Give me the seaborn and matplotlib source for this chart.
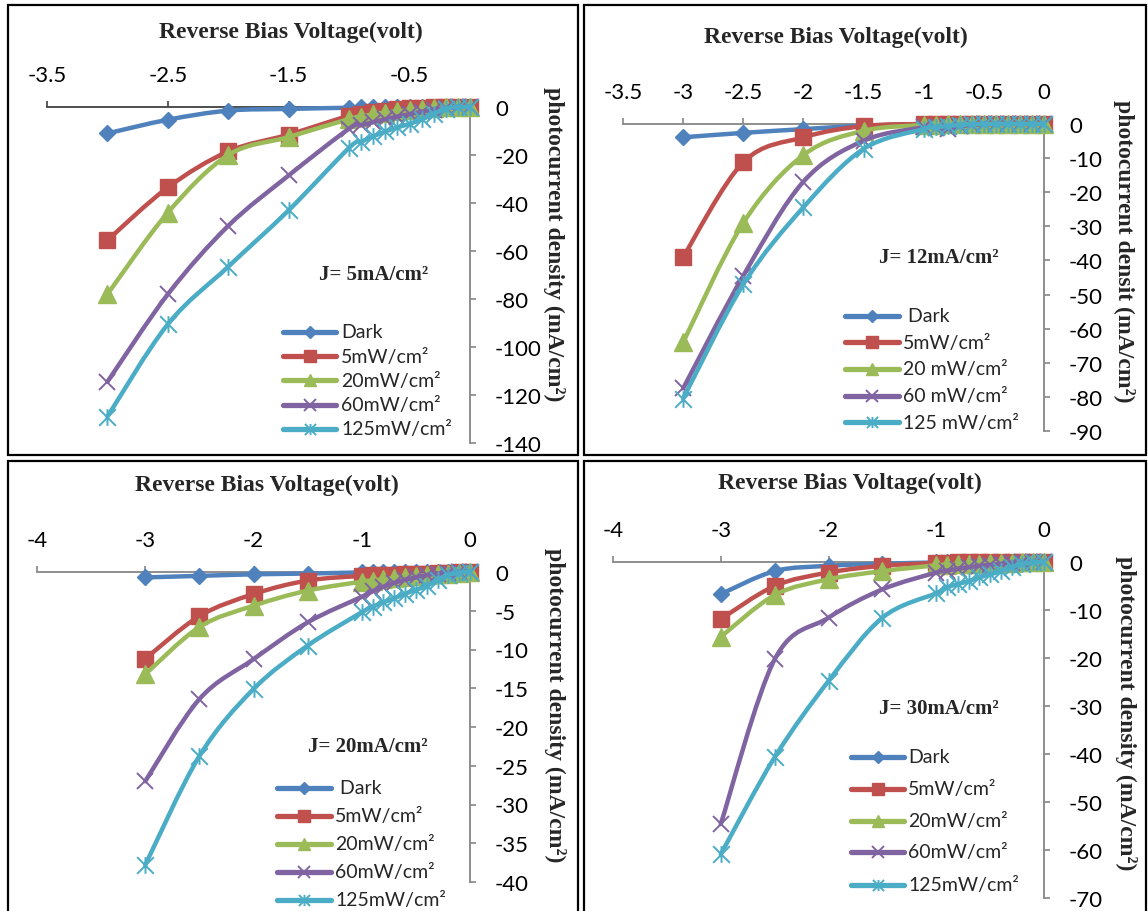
import numpy as np
import matplotlib
matplotlib.use("Agg")
import matplotlib.pyplot as plt
import seaborn as sns
from matplotlib.path import Path
from matplotlib.patches import PathPatch, Rectangle
from matplotlib.lines import Line2D
from matplotlib.ticker import FixedLocator, FuncFormatter

# ---------------- data ----------------
volts = [-3.0, -2.5, -2.0, -1.5, -1.0, -0.9, -0.8, -0.7, -0.6, -0.5, -0.4, -0.3, -0.2, -0.1, 0.0]

series_names = ["Dark", "5mW/cm²", "20mW/cm²", "60mW/cm²", "125mW/cm²"]

# J = 5 mA/cm2
j5_dark = [-11.0, -5.3, -1.5, -0.8, -0.3, -0.2, -0.1, 0, 0, 0, 0, 0, 0, 0, 0]
j5_5mw = [-55.5, -33.5, -18.5, -11.5, -3.6, -2.8, -2.1, -1.5, -1.0, -0.6, -0.4, -0.2, -0.1, 0, 0]
j5_20mw = [-78.0, -44.0, -20.0, -12.5, -5.0, -4.0, -3.0, -2.3, -1.8, -1.3, -0.9, -0.5, -0.2, 0, 0]
j5_60mw = [-114.5, -78.0, -49.5, -28.5, -9.0, -7.6, -6.3, -5.1, -4.0, -3.0, -2.0, -1.2, -0.5, -0.1, 0]
j5_125mw = [-129.0, -90.5, -66.5, -43.0, -17.0, -14.5, -12.2, -10.2, -8.5, -7.0, -5.2, -2.8, -0.7, 0, 0]

# J = 12 mA/cm2
j12_dark = [-3.9, -2.6, -1.5, -0.5, 0, 0, 0, 0, 0, 0, 0, 0, 0, 0, 0]
j12_5mw = [-39.0, -11.2, -3.9, -0.6, 0, 0, 0, 0, 0, 0, 0, 0, 0, 0, 0]
j12_20mw = [-64.0, -29.0, -9.1, -2.0, -0.3, -0.2, -0.1, 0, 0, 0, 0, 0, 0, 0, 0]
j12_60mw = [-77.5, -44.5, -16.9, -4.9, -1.0, -1.2, -1.5, -0.7, -0.3, -0.1, 0, 0, 0, 0, 0]
j12_125mw = [-80.5, -47.0, -24.4, -7.3, -1.5, -1.0, -0.6, -0.3, -0.1, 0, 0, 0, 0, 0, 0]

# J = 20 mA/cm2
j20_dark = [-0.7, -0.5, -0.3, -0.2, -0.05, 0, 0, 0, 0, 0, 0, 0, 0, 0, 0]
j20_5mw = [-11.2, -5.7, -2.85, -1.1, -0.5, -0.45, -0.4, -0.35, -0.3, -0.25, -0.2, -0.15, -0.1, -0.05, 0]
j20_20mw = [-13.2, -7.1, -4.35, -2.4, -1.25, -1.1, -0.95, -0.8, -0.65, -0.5, -0.4, -0.3, -0.2, -0.1, 0]
j20_60mw = [-27.0, -16.4, -11.25, -6.5, -3.2, -2.5, -1.9, -1.4, -1.0, -0.7, -0.4, -0.2, -0.1, 0, 0]
j20_125mw = [-37.8, -23.75, -15.1, -9.5, -5.2, -4.5, -3.9, -3.4, -2.8, -2.3, -1.8, -1.0, -0.4, -0.1, 0]

# J = 30 mA/cm2
j30_dark = [-6.7, -1.9, -0.8, -0.35, -0.1, 0, 0, 0, 0, 0, 0, 0, 0, 0, 0]
j30_5mw = [-11.9, -5.0, -2.2, -0.8, -0.2, -0.15, -0.1, -0.1, -0.05, 0, 0, 0, 0, 0, 0]
j30_20mw = [-15.6, -6.9, -3.6, -1.9, -0.7, -0.6, -0.5, -0.4, -0.35, -0.3, -0.2, -0.15, -0.1, 0, 0]
j30_60mw = [-54.6, -20.3, -11.6, -5.7, -2.2, -1.8, -1.4, -1.1, -0.8, -0.6, -0.4, -0.2, -0.1, 0, 0]
j30_125mw = [-60.9, -40.7, -24.8, -11.6, -6.5, -5.3, -4.6, -4.0, -3.2, -2.6, -1.9, -1.1, -0.4, -0.1, 0]

legend_a = ["Dark", "5mW/cm²", "20mW/cm²", "60mW/cm²", "125mW/cm²"]
legend_b = [" Dark", "5mW/cm²", "20 mW/cm²", "60 mW/cm²", "125 mW/cm²"]
legend_c = [" Dark", "5mW/cm²", "20mW/cm²", "60mW/cm²", "125mW/cm²"]

x_title = "Reverse Bias Voltage(volt)"
y_title = "photocurrent density (mA/cm²)"
y_title_b = "photocurrent densit (mA/cm²)"

# ---------------- style ----------------
sns.set_theme(style="white")
plt.rcParams["font.family"] = ["Lato", "DejaVu Sans"]
plt.rcParams["axes.unicode_minus"] = False

W, H = 1148, 912
fig = plt.figure(figsize=(W / 100, H / 100), dpi=100)
fig.patch.set_facecolor("white")


def fx(x):
    return x / W


def fy(y):
    return 1 - y / H


colors = ["#4F81BD", "#C0504D", "#9BBB59", "#8064A2", "#4BACC6"]
star = Path([(0, -0.5), (0, 0.5), (-0.5, -0.5), (0.5, 0.5), (-0.5, 0.5), (0.5, -0.5)],
            [Path.MOVETO, Path.LINETO, Path.MOVETO, Path.LINETO, Path.MOVETO, Path.LINETO])
markers = ["D", "s", "^", "x", star]
msizes = [8.5, 12, 13, 11, 12]
mews = [1, 1, 1, 1.4, 1.4]
leg_msizes = [6, 8.5, 9, 8, 8]

serif = "Liberation Serif"


def smooth_path(x, y):
    pts = np.column_stack([x, y]).astype(float)
    n = len(pts)
    verts = [pts[0]]
    codes = [Path.MOVETO]
    for i in range(n - 1):
        p0 = pts[i - 1] if i > 0 else pts[i]
        p1 = pts[i]
        p2 = pts[i + 1]
        p3 = pts[i + 2] if i + 2 < n else pts[i + 1]
        c1 = p1 + (p2 - p0) / 6.0
        c2 = p2 - (p3 - p1) / 6.0
        verts += [c1, c2, p2]
        codes += [Path.CURVE4] * 3
    return Path(verts, codes)


panels = [
    dict(ax=(47, 470, 108, 444), xlim=(-3.5, 0), ylim=(-140, 0),
         xt=[-3.5, -2.5, -1.5, -0.5], yt=list(range(0, -141, -20)),
         title=(291, 32), ylab=(554, 244, y_title), J=(374, 275, "J= 5mA/cm²"),
         rows=[333, 357, 381, 406, 430], legx=(283, 336, 341), labels=legend_a,
         border=(8, 6, 578, 456), spine="#404040",
         data=[j5_dark, j5_5mw, j5_20mw, j5_60mw, j5_125mw]),
    dict(ax=(623, 1044, 125, 432), xlim=(-3.5, 0), ylim=(-90, 0),
         xt=[-3.5, -3, -2.5, -2, -1.5, -1, -0.5, 0], yt=list(range(0, -91, -10)),
         title=(836, 37), ylab=(1124, 251, y_title_b), J=(939, 258, "J= 12mA/cm²"),
         rows=[317, 343, 370, 397, 423], legx=(845, 899, 903), labels=legend_b,
         border=(584, 6, 1146, 456), spine="#868686",
         data=[j12_dark, j12_5mw, j12_20mw, j12_60mw, j12_125mw]),
    dict(ax=(37, 470, 573, 883), xlim=(-4, 0), ylim=(-40, 0),
         xt=[-4, -3, -2, -1, 0], yt=list(range(0, -41, -5)),
         title=(267, 485), ylab=(555, 705, y_title), J=(368, 747, "J= 20mA/cm²"),
         rows=[789, 817, 845, 873, 901], legx=(277, 331, 335), labels=legend_c,
         border=(8, 462, 578, 930), spine="#868686",
         data=[j20_dark, j20_5mw, j20_20mw, j20_60mw, j20_125mw]),
    dict(ax=(613, 1044, 563, 899), xlim=(-4, 0), ylim=(-70, 0),
         xt=[-4, -3, -2, -1, 0], yt=list(range(0, -71, -10)),
         title=(850, 483), ylab=(1126, 713, y_title), J=(939, 709, "J= 30mA/cm²"),
         rows=[758, 790, 822, 853, 886], legx=(851, 904, 908), labels=legend_a,
         border=(584, 462, 1146, 930), spine="#868686",
         data=[j30_dark, j30_5mw, j30_20mw, j30_60mw, j30_125mw]),
]

fmt = FuncFormatter(lambda v, p: f"{v:g}")

for P in panels:
    x0, x1, y0, y1 = P["ax"]
    ax = fig.add_axes([fx(x0), fy(y1), (x1 - x0) / W, (y1 - y0) / H])
    ax.set_facecolor("none")

    for i, ys in enumerate(P["data"]):
        c = colors[i]
        patch = PathPatch(smooth_path(volts, ys), fill=False, edgecolor=c, lw=3.2,
                          capstyle="round", joinstyle="round", clip_on=False,
                          transform=ax.transData, zorder=3 + 2 * i)
        ax.add_patch(patch)
        sns.lineplot(x=volts, y=ys, ax=ax, color=c, linewidth=0, marker=markers[i],
                     markersize=msizes[i], markeredgecolor=c, markerfacecolor=c,
                     markeredgewidth=mews[i], clip_on=False, zorder=4 + 2 * i,
                     estimator=None, sort=False, legend=False)

    ax.set_xlim(*P["xlim"])
    ax.set_ylim(*P["ylim"])
    ax.set_xlabel("")
    ax.set_ylabel("")
    for s in ["left", "bottom"]:
        ax.spines[s].set_visible(False)
    ax.spines["top"].set_color(P["spine"])
    ax.spines["right"].set_color("#868686")
    ax.spines["top"].set_linewidth(1.3)
    ax.spines["right"].set_linewidth(1.3)
    ax.xaxis.set_ticks_position("top")
    ax.yaxis.set_ticks_position("right")
    ax.xaxis.set_major_locator(FixedLocator(P["xt"]))
    ax.yaxis.set_major_locator(FixedLocator(P["yt"]))
    ax.xaxis.set_major_formatter(fmt)
    ax.yaxis.set_major_formatter(fmt)
    ax.tick_params(axis="x", direction="out", length=4, width=1.2, color=P["spine"],
                   pad=12, labelsize=16, labelcolor="black")
    ax.tick_params(axis="y", direction="out", length=4, width=1.2, color="#868686",
                   pad=14, labelsize=16, labelcolor="black")
    ax.grid(False)

    # texts
    tx, ty = P["title"]
    fig.text(fx(tx), fy(ty), x_title, ha="center", va="center", family=serif,
             weight="bold", fontsize=17)
    lx, ly, lt = P["ylab"]
    fig.text(fx(lx), fy(ly), lt, ha="center", va="center", rotation=270, family=serif,
             weight="bold", fontsize=17)
    jx, jy, jt = P["J"]
    fig.text(fx(jx), fy(jy), jt, ha="center", va="center", family=serif,
             weight="bold", fontsize=15)

    # legend
    la, lb, ltx = P["legx"]
    for i, ry in enumerate(P["rows"]):
        c = colors[i]
        fig.add_artist(Line2D([fx(la), fx(lb)], [fy(ry), fy(ry)], color=c, lw=3.8,
                              solid_capstyle="round", transform=fig.transFigure))
        fig.add_artist(Line2D([fx((la + lb) / 2)], [fy(ry)], color=c, lw=0,
                              marker=markers[i], markersize=leg_msizes[i],
                              markeredgecolor=c, markerfacecolor=c,
                              markeredgewidth=mews[i], transform=fig.transFigure))
        fig.text(fx(ltx), fy(ry), P["labels"][i], ha="left", va="center", fontsize=14)

    # border
    bx0, by0, bx1, by1 = P["border"]
    fig.add_artist(Rectangle((fx(bx0), fy(by1)), (bx1 - bx0) / W, (by1 - by0) / H,
                             fill=False, edgecolor="black", lw=1.6,
                             transform=fig.transFigure, clip_on=False))

fig.savefig("out.png", dpi=100)
